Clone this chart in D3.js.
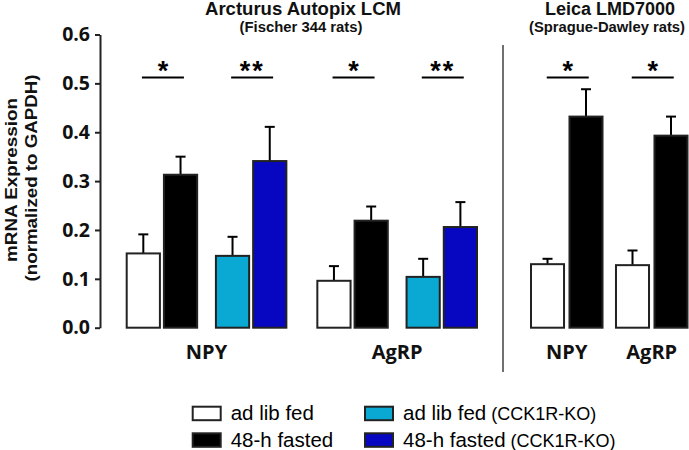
<!DOCTYPE html>
<html><head><meta charset="utf-8">
<script src="https://cdn.jsdelivr.net/npm/d3@7"></script>
<style>body{margin:0;background:#fff}svg{display:block}</style>
</head><body>
<svg id="c" width="689" height="450"></svg>
<script>
// ---- data ----
const genes = ["NPY", "AgRP"];
const seriesNames = ["ad lib fed", "48-h fasted", "ad lib fed", "48-h fasted"];
const seriesNotes = ["", "", "(CCK1R-KO)", "(CCK1R-KO)"];
const seriesColors = ["#ffffff", "#000000", "#0aa9d3", "#0707c2"];
const arcturusTitle = "Arcturus Autopix LCM";
const arcturusStrain = "(Fischer 344 rats)";
const leicaTitle = "Leica LMD7000";
const leicaStrain = "(Sprague-Dawley rats)";
// Arcturus: per gene, [fed, fasted, fed KO, fasted KO]
const arcturusNPY = [0.152, 0.313, 0.147, 0.341];
const arcturusNPYerr = [0.039, 0.037, 0.039, 0.070];
const arcturusAgRP = [0.096, 0.219, 0.104, 0.206];
const arcturusAgRPerr = [0.030, 0.029, 0.037, 0.051];
const arcturusStars = [["*", "**"], ["*", "**"]];
// Leica: per gene, [fed, fasted]
const leicaNPY = [0.130, 0.432];
const leicaNPYerr = [0.011, 0.056];
const leicaAgRP = [0.128, 0.393];
const leicaAgRPerr = [0.030, 0.039];
const leicaStars = ["*", "*"];
const sigLevel = 0.512;
const yTicks = [0, 0.1, 0.2, 0.3, 0.4, 0.5, 0.6];
const yTitle1 = "mRNA Expression";
const yTitle2 = "(normalized to GAPDH)";

// ---- layout ----
const svg = d3.select("#c");
const y = d3.scaleLinear().domain([0, 0.6]).range([327.7, 34.5]);
const axisX = 100;

// y axis
const gy = svg.append("g").attr("transform", `translate(${axisX},0)`)
  .call(d3.axisLeft(y).tickValues(yTicks).tickFormat(d3.format(".1f")).tickSize(5).tickPadding(5).tickSizeOuter(0));
gy.select(".domain").attr("stroke", "#222").attr("stroke-width", 2);
gy.selectAll(".tick line").attr("stroke", "#222").attr("stroke-width", 2);
gy.selectAll(".tick text").attr("font-family", "'Open Sans', sans-serif").attr("font-weight", 700)
  .attr("font-size", 19.5).attr("fill", "#111");

// y title
const yt = svg.append("g").attr("font-family", "'Liberation Sans', Arial, sans-serif").attr("font-weight", 700)
  .attr("font-size", 17).attr("fill", "#111").attr("text-anchor", "middle");
yt.append("text").attr("transform", "translate(17,180) rotate(-90)").attr("textLength", 164)
  .attr("lengthAdjust", "spacingAndGlyphs").text(yTitle1);
yt.append("text").attr("transform", "translate(37,178) rotate(-90)").attr("textLength", 207)
  .attr("lengthAdjust", "spacingAndGlyphs").text(yTitle2);

// titles
const tg = svg.append("g").attr("font-family", "'Liberation Sans', Arial, sans-serif").attr("font-weight", 700)
  .attr("fill", "#111").attr("text-anchor", "middle");
tg.append("text").attr("x", 303).attr("y", 15).attr("font-size", 18).attr("textLength", 196)
  .attr("lengthAdjust", "spacingAndGlyphs").text(arcturusTitle);
tg.append("text").attr("x", 301).attr("y", 32).attr("font-size", 14).attr("textLength", 123)
  .attr("lengthAdjust", "spacingAndGlyphs").text(arcturusStrain);
tg.append("text").attr("x", 610).attr("y", 15).attr("font-size", 18).attr("textLength", 130)
  .attr("lengthAdjust", "spacingAndGlyphs").text(leicaTitle);
tg.append("text").attr("x", 607).attr("y", 32).attr("font-size", 14).attr("textLength", 156)
  .attr("lengthAdjust", "spacingAndGlyphs").text(leicaStrain);

// divider
svg.append("line").attr("x1", 503).attr("x2", 503).attr("y1", 45).attr("y2", 372)
  .attr("stroke", "#111").attr("stroke-width", 1.2);

// scales
const xLeft = d3.scaleBand().domain(genes).range([125.7, 478]).paddingInner(0.152).paddingOuter(0);
const xPair = d3.scaleBand().domain([0, 1]).range([0, xLeft.bandwidth()]).paddingInner(0.188).paddingOuter(0);
const xBar = d3.scaleBand().domain([0, 1]).range([0, xPair.bandwidth()]).paddingInner(0.054).paddingOuter(0);
const xRight = d3.scaleBand().domain(genes).range([530, 688.5]).paddingInner(0.135).paddingOuter(0);
const xBarR = d3.scaleBand().domain([0, 1]).range([0, xRight.bandwidth()]).paddingInner(0.09).paddingOuter(0);

const bars = [];
const leftVals = [arcturusNPY, arcturusAgRP], leftErr = [arcturusNPYerr, arcturusAgRPerr];
genes.forEach((g, gi) => {
  leftVals[gi].forEach((v, si) => {
    const pair = Math.floor(si / 2), k = si % 2;
    bars.push({x: xLeft(g) + xPair(pair) + xBar(k), w: xBar.bandwidth(), v, e: leftErr[gi][si], c: seriesColors[si]});
  });
});
const rightVals = [leicaNPY, leicaAgRP], rightErr = [leicaNPYerr, leicaAgRPerr];
genes.forEach((g, gi) => {
  rightVals[gi].forEach((v, si) => {
    bars.push({x: xRight(g) + xBarR(si), w: xBarR.bandwidth(), v, e: rightErr[gi][si], c: seriesColors[si]});
  });
});

// error bars
const eg = svg.append("g").attr("stroke", "#000").attr("stroke-width", 2);
bars.forEach(b => {
  const cx = b.x + b.w / 2;
  eg.append("line").attr("x1", cx).attr("x2", cx).attr("y1", y(b.v)).attr("y2", y(b.v + b.e));
  eg.append("line").attr("x1", cx - 5).attr("x2", cx + 5).attr("y1", y(b.v + b.e)).attr("y2", y(b.v + b.e));
});
// bars
svg.append("g").selectAll("rect").data(bars).join("rect")
  .attr("x", d => d.x + 1).attr("y", d => y(d.v)).attr("width", d => d.w - 2).attr("height", d => y(0) - y(d.v))
  .attr("fill", d => d.c).attr("stroke", "#222").attr("stroke-width", 2);

// significance
const sg = svg.append("g");
function sig(cx, label) {
  sg.append("line").attr("x1", cx - 21).attr("x2", cx + 21).attr("y1", y(sigLevel)).attr("y2", y(sigLevel))
    .attr("stroke", "#000").attr("stroke-width", 2);
  sg.append("text").attr("x", cx).attr("y", y(sigLevel) + 2).attr("text-anchor", "middle")
    .attr("font-family", "'Liberation Sans', Arial, sans-serif").attr("font-weight", 700).attr("font-size", 27)
    .attr("letter-spacing", label.length > 1 ? 2 : 0).attr("fill", "#000").text(label);
}
genes.forEach((g, gi) => {
  [0, 1].forEach(p => sig(xLeft(g) + xPair(p) + xPair.bandwidth() / 2 + 1, arcturusStars[gi][p]));
  sig(xRight(g) + xRight.bandwidth() / 2 + 1, leicaStars[gi]);
});

// x labels
const xl = svg.append("g").attr("font-family", "'Open Sans', sans-serif").attr("font-weight", 700)
  .attr("font-size", 20).attr("fill", "#111").attr("text-anchor", "middle");
genes.forEach(g => {
  xl.append("text").attr("x", xLeft(g) + xLeft.bandwidth() / 2).attr("y", 359).text(g);
  xl.append("text").attr("x", xRight(g) + xRight.bandwidth() / 2).attr("y", 359).text(g);
});

// legend
const legX = [192.7, 365], legY = [406.7, 433.3];
const lg = svg.append("g").attr("font-family", "'Liberation Sans', Arial, sans-serif").attr("fill", "#000");
seriesNames.forEach((n, i) => {
  const col = Math.floor(i / 2), row = i % 2;
  const x0 = legX[col], y0 = legY[row];
  lg.append("rect").attr("x", x0).attr("y", y0).attr("width", 28).attr("height", 13.5)
    .attr("fill", seriesColors[i]).attr("stroke", "#222").attr("stroke-width", 2);
  const t = lg.append("text").attr("x", x0 + 38).attr("y", y0 + 13.5).attr("font-size", 20.5).text(n);
  if (seriesNotes[i]) t.append("tspan").attr("font-size", 18).text(" " + seriesNotes[i]);
});
</script>
</body></html>
